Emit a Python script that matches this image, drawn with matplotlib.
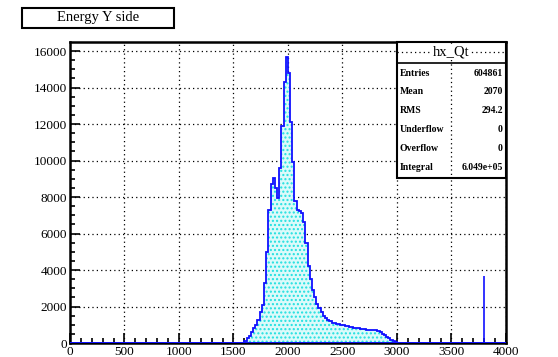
import matplotlib
matplotlib.use("Agg")
import matplotlib.pyplot as plt
import numpy as np
from matplotlib.patches import Rectangle

# histogram hx_Qt (20-unit bins)
bin_width = 20
bin_left = [1600, 1620, 1640, 1660, 1680, 1700, 1720, 1740, 1760, 1780,
            1800, 1820, 1840, 1860, 1880, 1900, 1920, 1940, 1960, 1980,
            2000, 2020, 2040, 2060, 2080, 2100, 2120, 2140, 2160, 2180,
            2200, 2220, 2240, 2260, 2280, 2300, 2320, 2340, 2360, 2380,
            2400, 2420, 2440, 2460, 2480, 2500, 2520, 2540, 2560, 2580,
            2600, 2620, 2640, 2660, 2680, 2700, 2720, 2740, 2760, 2780,
            2800, 2820, 2840, 2860, 2880, 2900, 2920, 2940, 2960, 2980]
counts = [100, 250, 400, 600, 800, 1000, 1250, 1700, 2100, 3300,
          5000, 7300, 8700, 9050, 8500, 7950, 9600, 11900, 14300, 15700,
          14800, 12100, 9900, 7800, 7300, 7250, 7150, 6650, 5500, 4200,
          3500, 2900, 2500, 2150, 1900, 1700, 1500, 1350, 1250, 1180,
          1120, 1080, 1050, 1020, 990, 970, 940, 910, 880, 860,
          840, 820, 810, 790, 780, 760, 740, 730, 720, 710,
          690, 650, 600, 520, 440, 350, 250, 160, 90, 50]
# lone narrow spike near 3800
spike_x = 3795
spike_h = 3650

stats_names = ["Entries", "Mean", "RMS", "Underflow", "Overflow", "Integral"]
stats_values = ["604861", "2070", "294.2", "0", "0", "6.049e+05"]

edges = np.arange(0, 4000 + bin_width, bin_width)
h = np.zeros(len(edges) - 1)
for xl, c in zip(bin_left, counts):
    h[int(xl // bin_width)] = c

serif = "Liberation Serif"
W, H = 558, 357
fig = plt.figure(figsize=(W / 100, H / 100), dpi=100)
ax = fig.add_axes([69.9 / W, 1 - 343 / H, (506 - 69.9) / W, (343 - 42) / H])

ax.stairs(h, edges, fill=True, facecolor="#dcfafa", hatch="....",
          edgecolor="#20e0e0", linewidth=0, zorder=2)
ax.stairs(h, edges, color="#1010ff", linewidth=1.3, baseline=None, zorder=3)
ax.plot([0, 4000], [0, 0], color="#1010ff", linewidth=1.3, zorder=3)
ax.vlines(spike_x, 0, spike_h, color="#1010ff", linewidth=1.2, zorder=3)

ax.set_xlim(0, 4000)
ax.set_ylim(0, 16500)
ax.set_xticks(np.arange(0, 4001, 500))
ax.set_xticks(np.arange(0, 4001, 100), minor=True)
ax.set_yticks(np.arange(0, 16001, 2000))
ax.set_yticks(np.arange(0, 16001, 500), minor=True)
ax.tick_params(which="both", direction="in", top=False, right=False,
               labelsize=9.5, width=1.2)
ax.tick_params(which="major", length=7, pad=2)
ax.tick_params(which="minor", length=3.5)
for lab in ax.get_xticklabels() + ax.get_yticklabels():
    lab.set_fontfamily(serif)
ax.grid(True, which="major", color="black", linestyle=(0, (1, 2.5)),
        linewidth=0.9, zorder=1)
for s in ax.spines.values():
    s.set_linewidth(1.8)

# stats box
def px(x, y):
    return x / W, 1 - y / H

bx0, bx1, by0, by1, hy = 397, 506, 42, 178, 62.5
fig.add_artist(Rectangle(px(bx0, by1), (bx1 - bx0) / W, (by1 - by0) / H,
                         transform=fig.transFigure, facecolor="white",
                         edgecolor="black", linewidth=1.5, zorder=5))
fig.add_artist(plt.Line2D([bx0 / W, bx1 / W], [1 - hy / H] * 2,
                          transform=fig.transFigure, color="black",
                          linewidth=1.2, zorder=6))
fig.add_artist(plt.Line2D([bx0 / W, bx1 / W], [1 - 51.7 / H] * 2,
                          transform=fig.transFigure, color="black",
                          linestyle=(0, (1, 2.5)), linewidth=0.9, zorder=5.5))
fig.add_artist(plt.Line2D([451 / W, 451 / W], [1 - by0 / H, 1 - by1 / H],
                          transform=fig.transFigure, color="black",
                          linestyle=(0, (1, 2.5)), linewidth=0.9, zorder=5.5))
fig.text(*px((bx0 + bx1) / 2, 52), "hx_Qt", ha="center", va="center",
         fontsize=10.5, family=serif, zorder=7,
         bbox=dict(facecolor="white", edgecolor="none", pad=0.5))
for i, (n, v) in enumerate(zip(stats_names, stats_values)):
    yy = 73 + i * 18.8
    fig.text(*px(bx0 + 3, yy), n, ha="left", va="center", fontsize=7,
             family=serif, fontweight="bold", zorder=7)
    fig.text(*px(bx1 - 3, yy), v, ha="right", va="center", fontsize=7,
             family=serif, fontweight="bold", zorder=7)

# title box
fig.add_artist(Rectangle(px(22, 28), (174 - 22) / W, 20 / H,
                         transform=fig.transFigure, facecolor="white",
                         edgecolor="black", linewidth=1.5))
fig.text(*px(98, 17.5), "Energy Y side", ha="center", va="center",
         fontsize=10.5, family=serif)

fig.savefig("out.png", dpi=100)
